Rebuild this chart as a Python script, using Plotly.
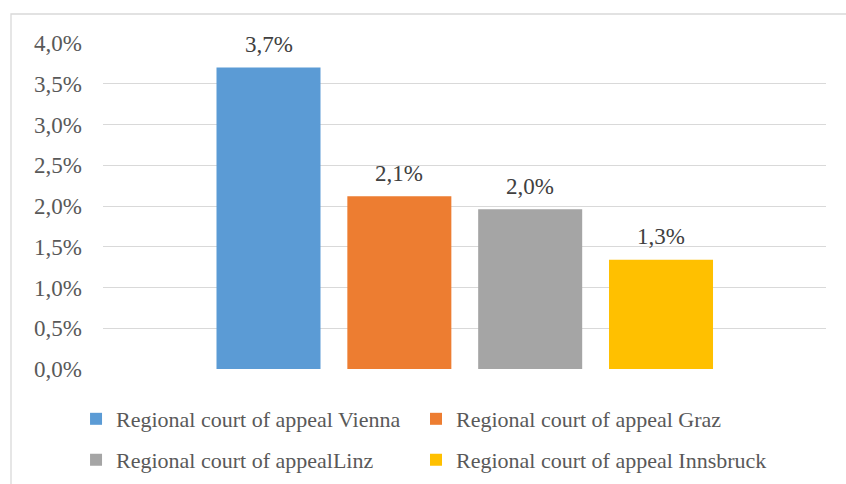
import plotly.graph_objects as go

# ---- data ----
series_names = [
    "Regional court of appeal Vienna",
    "Regional court of appeal Graz",
    "Regional court of appealLinz",
    "Regional court of appeal Innsbruck",
]
series_values = [0.0370, 0.0212, 0.0196, 0.0134]
series_colors = ["#5B9BD5", "#ED7D31", "#A5A5A5", "#FFC000"]
value_labels = ["3,7%", "2,1%", "2,0%", "1,3%"]
y_tick_values = [0, 0.005, 0.01, 0.015, 0.02, 0.025, 0.03, 0.035, 0.04]
y_tick_labels = ["0,0%", "0,5%", "1,0%", "1,5%", "2,0%", "2,5%", "3,0%", "3,5%", "4,0%"]

FONT = "Liberation Serif"

# legend slot for each series (2 x 2 grid)
legend_ids = ["legend", "legend2", "legend3", "legend4"]
legend_x = [-0.0373, 0.4329, -0.0373, 0.4329]
legend_y = [-0.1534, -0.1534, -0.279, -0.279]

fig = go.Figure()
for i, (name, val, col) in enumerate(zip(series_names, series_values, series_colors)):
    fig.add_trace(go.Bar(
        x=[name], y=[val], name=name,
        marker=dict(color=col, line=dict(width=0)),
        width=0.795,
        legend=legend_ids[i],
        hoverinfo="skip",
    ))
    fig.add_annotation(
        x=name, y=val, text=value_labels[i], showarrow=False,
        yanchor="middle", yshift=23,
        font=dict(family=FONT, size=23, color="#404040"),
    )

legend_layout = {}
for lid, lx, ly in zip(legend_ids, legend_x, legend_y):
    legend_layout[lid] = dict(
        orientation="h", x=lx, xanchor="left", y=ly, yanchor="middle",
        font=dict(family=FONT, size=22, color="#595959"),
        bgcolor="rgba(0,0,0,0)",
    )

fig.update_layout(
    width=846, height=484,
    margin=dict(l=103, r=20, t=43, b=115, autoexpand=False),
    paper_bgcolor="white", plot_bgcolor="white",
    barmode="overlay",
    separators=",.",
    font=dict(family=FONT, size=22, color="#595959"),
    xaxis=dict(
        type="category", range=[-1.265, 4.261],
        showticklabels=False, showgrid=False, zeroline=False,
        showline=False, fixedrange=True,
    ),
    yaxis=dict(
        range=[0, 0.04], tickvals=y_tick_values, ticktext=y_tick_labels,
        showgrid=True, gridcolor="#D9D9D9", gridwidth=1.3,
        zeroline=False, showline=False,
        tickfont=dict(family=FONT, size=23, color="#595959"),
        ticklabelstandoff=20,
    ),
    showlegend=True,
    **legend_layout,
)

# outer chart frame
fig.add_shape(
    type="rect", xref="paper", yref="paper",
    x0=(11 - 103) / 723, x1=(850 - 103) / 723,
    y0=(369 - 495) / 326, y1=(369 - 14) / 326,
    line=dict(color="#D9D9D9", width=1.3), fillcolor="rgba(0,0,0,0)",
    layer="below",
)

fig.write_html(
    "out.html",
    config={"displayModeBar": False},
    post_script="document.body.style.margin='0';document.body.style.padding='0';",
)
